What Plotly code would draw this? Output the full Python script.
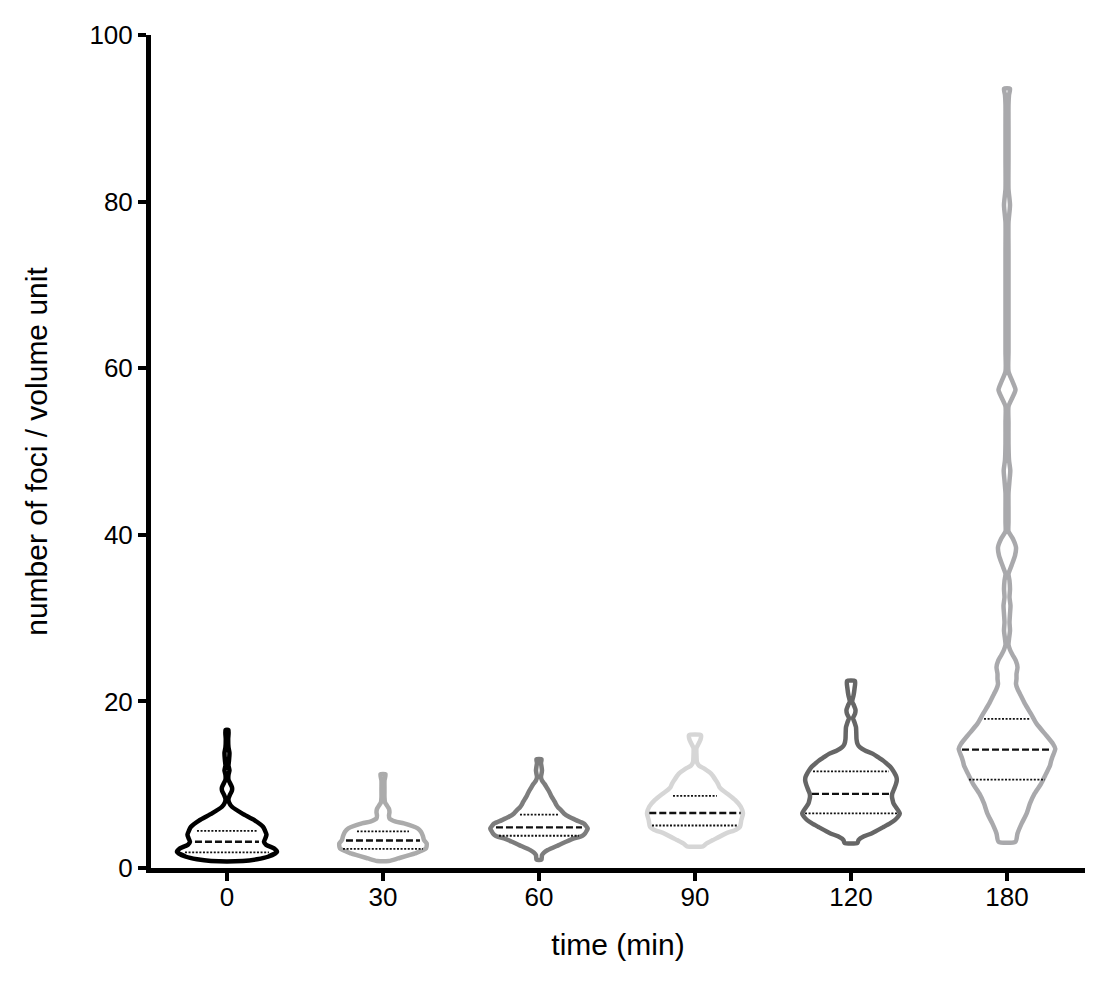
import plotly.graph_objects as go

# ---------------- data ----------------
categories = ["0", "30", "60", "90", "120", "180"]   # time (min)

# violin density profiles: y level (foci / volume unit) and density (arbitrary units)
g0_y = [0.85, 1.05, 1.35, 1.95, 2.35, 2.8, 3.15, 3.6, 4.0, 4.5, 4.95, 5.7, 6.55, 7.35, 7.9,
        8.3, 8.8, 9.3, 9.7, 10.2, 10.6, 11.2, 11.7, 12.3, 12.9, 13.8, 14.5, 15.5, 16.55]
g0_d = [16, 30, 41, 50, 47, 39, 37, 38.5, 39.5, 38, 36, 28, 15, 5, 2,
        1.5, 3, 5, 5, 3, 1.5, 1.5, 2.5, 1.5, 2, 2.5, 1.5, 1.2, 1.5]

g30_y = [0.85, 1.15, 1.75, 2.35, 2.95, 3.35, 3.8, 4.35, 4.75, 5.35, 5.6, 5.95, 6.3, 6.7,
         7.1, 7.5, 7.9, 8.5, 9.5, 10.5, 11.25]
g30_d = [6, 15, 32, 43, 43.7, 41, 40, 38, 34.7, 21, 12, 6.5, 6, 6.5,
         6, 4, 2, 1.5, 1.5, 1.5, 2.5]

g60_y = [1.0, 1.55, 1.85, 2.15, 2.75, 3.15, 3.55, 3.85, 4.15, 4.45, 4.75, 5.05, 5.35, 5.75,
         6.15, 6.55, 6.95, 7.3, 7.55, 7.9, 8.3, 8.7, 9.1, 9.6, 10.1, 10.5, 10.9, 11.3, 11.7,
         12.2, 12.6, 13.05]
g60_d = [2.5, 3, 5, 8.7, 19.7, 27, 35, 43, 46, 47.5, 48.7, 47, 44.7, 37,
         30, 25, 22, 19, 17.5, 16, 14, 12, 10.5, 8, 5.5, 3, 2, 2.5, 3,
         2.5, 2, 2.5]

g90_y = [2.6, 2.9, 3.35, 4.15, 4.6, 4.95, 5.75, 6.55, 7.35, 8.15, 8.95, 9.4, 9.7, 10.1, 10.5,
         11.3, 11.9, 12.3, 12.7, 13.5, 14.4, 14.9, 15.4, 15.95]
g90_d = [8, 11, 18, 31, 41, 45, 46.3, 48, 45.8, 40.3, 32, 27, 24.5, 23, 21,
         16.3, 9.7, 4, 2, 1.5, 1.5, 3.5, 5.5, 6]

g120_y = [3.0, 3.35, 3.8, 4.15, 4.95, 5.35, 5.75, 6.15, 6.55, 6.95, 7.35, 7.75, 8.15, 8.55,
          8.95, 9.3, 9.7, 10.1, 10.5, 10.9, 11.3, 11.7, 12.1, 12.5, 12.9, 13.3, 13.7, 14.1,
          14.5, 14.9, 15.5, 16.2, 16.9, 17.5, 18.0, 18.5, 19.0, 19.5, 20.0, 20.7, 21.5, 22.45]
g120_d = [6.5, 7.5, 13, 20.5, 33, 39, 43.8, 47, 48.8, 47, 44.7, 42.5, 41.6, 41,
          41.3, 42.5, 43.8, 45, 45.8, 45.5, 44, 42, 39.7, 36, 32, 27, 22, 14,
          8.8, 6.5, 5.5, 5.3, 5, 3.5, 2, 4, 4.5, 3, 1.2, 2.5, 3.5, 4]

g180_y = [3.15, 4.15, 5.35, 6.55, 7.75, 8.95, 10.1, 11.3, 12.3, 12.8, 13.3, 14.3, 14.9, 16.1,
          17.3, 18.5, 19.7, 20.9, 21.5, 22.1, 22.7, 23.3, 24.1, 24.9, 25.6, 26.2, 26.8, 27.5,
          28.5, 29.5, 30.5, 31.5, 32.5, 33.5, 34.5, 35.3, 36.3, 37.5, 38.5, 39.5, 40.4, 41.5,
          43, 45, 46.5, 47.7, 49, 51, 53.5, 55.4, 56.5, 57.4, 58.4, 59.6, 62, 66, 70, 74,
          77.5, 79.6, 81.5, 85, 89, 91.6, 92.8, 93.55]
g180_d = [8.5, 10.5, 14.7, 19.7, 23, 27.7, 34, 39, 43, 44, 45.3, 48.3, 46, 38,
          29.7, 24, 18, 13, 10.5, 9, 9.5, 9.5, 10.5, 8.8, 5.5, 3, 1.5, 2,
          3, 2.5, 3, 3.5, 2.5, 3, 2.5, 1.5, 4.5, 8, 9, 6, 1.5, 1.5,
          1.5, 1.5, 2.5, 3.3, 2, 1.5, 1.5, 1.5, 5.5, 8.5, 5.5, 1.5, 1.5, 1.5, 1.5, 1.5,
          1.5, 3, 1.5, 1.5, 1.5, 1.5, 2, 3]

# quartiles (foci / volume unit) and density at which each line ends
q1 = [1.87, 2.3, 3.87, 5.1, 6.55, 10.6]
median = [3.15, 3.3, 4.87, 6.6, 8.9, 14.2]
q3 = [4.45, 4.4, 6.4, 8.65, 11.6, 17.9]
q1_d = [42, 40, 40, 43, 46, 38]
median_d = [32, 37, 43, 45.7, 39, 45]
q3_d = [30, 26, 19, 22, 38, 23]

# ---------------- styling ----------------
profiles_y = [g0_y, g30_y, g60_y, g90_y, g120_y, g180_y]
profiles_d = [g0_d, g30_d, g60_d, g90_d, g120_d, g180_d]
colors = ["#000000", "#ababab", "#7d7d7d", "#d6d6d6", "#666666", "#a9a9ac"]
SCALE = 1.0 / 156.0   # density unit -> category width
FONT = "Liberation Sans, Arial, Helvetica, sans-serif"

fig = go.Figure()

for i, (ys, ds) in enumerate(zip(profiles_y, profiles_d)):
    right_x = [i + d * SCALE for d in ds]
    left_x = [i - d * SCALE for d in ds][::-1]
    xs = right_x + left_x + [right_x[0]]
    yy = list(ys) + list(ys)[::-1] + [ys[0]]
    fig.add_trace(go.Scatter(
        x=xs, y=yy, mode="lines",
        line=dict(color=colors[i], width=4.5, shape="spline", smoothing=0.6),
        hoverinfo="skip", showlegend=False))

for i in range(len(categories)):
    for val, dd, dash, w in [(q1[i], q1_d[i], "2px,1.6px", 1.8),
                             (q3[i], q3_d[i], "2px,1.6px", 1.8),
                             (median[i], median_d[i], "7px,3px", 2.3)]:
        fig.add_trace(go.Scatter(
            x=[i - dd * SCALE, i + dd * SCALE], y=[val, val], mode="lines",
            line=dict(color="#111111", width=w, dash=dash),
            hoverinfo="skip", showlegend=False))

fig.update_layout(
    width=1110, height=989,
    margin=dict(l=143, r=33, t=25, b=129),
    paper_bgcolor="white", plot_bgcolor="white",
    font=dict(family=FONT, size=26, color="black"),
    showlegend=False,
    xaxis=dict(
        range=[-0.487, 5.5],
        tickmode="array", tickvals=list(range(len(categories))), ticktext=categories,
        showline=True, linecolor="black", linewidth=5,
        ticks="outside", ticklen=8, tickwidth=4, tickcolor="black",
        ticklabelstandoff=-6,
        showgrid=False, zeroline=False,
        tickfont=dict(size=26, family=FONT),
        title=dict(text="time (min)", font=dict(size=30, family=FONT), standoff=24),
    ),
    yaxis=dict(
        range=[0, 100],
        tickmode="array", tickvals=[0, 20, 40, 60, 80, 100],
        showline=True, linecolor="black", linewidth=5,
        ticks="outside", ticklen=8, tickwidth=4, tickcolor="black",
        showgrid=False, zeroline=False,
        tickfont=dict(size=26, family=FONT),
        title=dict(text="number of foci / volume unit", font=dict(size=30, family=FONT), standoff=34),
    ),
)

fig.write_html("out.html")
